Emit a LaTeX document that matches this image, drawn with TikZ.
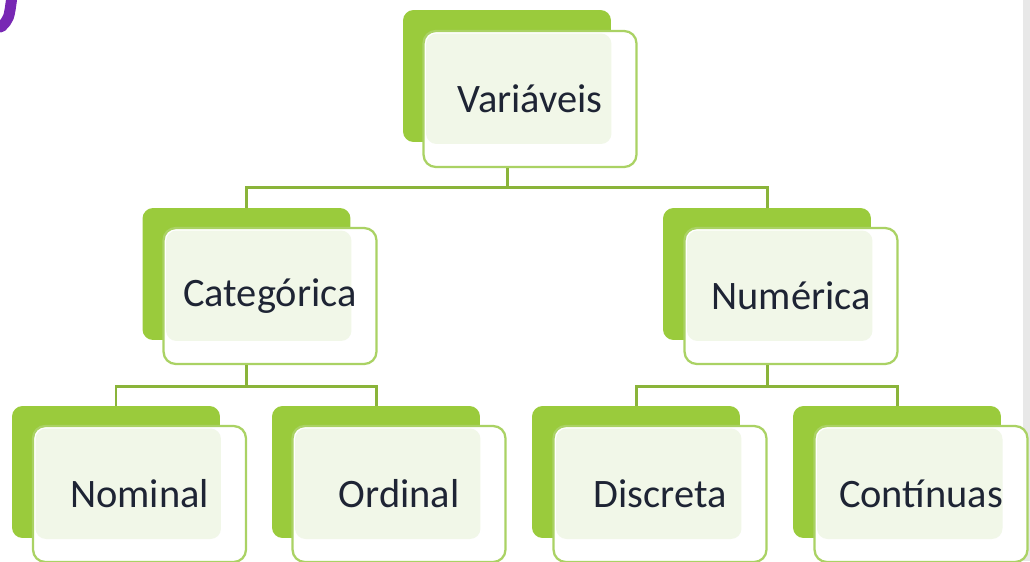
\documentclass[tikz,border=0pt]{standalone}
\usepackage{fontspec}
\setmainfont{Carlito}
\usepackage{tikz}
\usetikzlibrary{positioning}
\usepackage{xcolor}

\definecolor{leafgreen}{RGB}{154,203,60}
\definecolor{rimgreen}{RGB}{170,210,100}
\definecolor{linkgreen}{RGB}{138,180,58}
\definecolor{palegreen}{RGB}{241,247,232}
\definecolor{inkdark}{RGB}{30,36,52}
\definecolor{stray}{RGB}{120,40,180}

\tikzset{
  back/.style={rectangle, rounded corners=6pt, fill=leafgreen, minimum width=4.16cm, minimum height=2.64cm},
  front/.style={rectangle, rounded corners=7pt, fill=white, draw=rimgreen, line width=1.3pt,
    minimum width=4.26cm, minimum height=2.72cm, text=inkdark,
    font=\fontsize{23}{27}\selectfont,
    path picture={\fill[palegreen, rounded corners=6pt]
      ([shift={(0.05cm,-0.05cm)}]path picture bounding box.north west) rectangle
      ([shift={(-0.5cm,0.46cm)}]path picture bounding box.south east);}},
  link/.style={draw=linkgreen, line width=1.7pt}
}

\begin{document}
\begin{tikzpicture}[x=0.02cm, y=-0.02cm]
\useasboundingbox (0,0) rectangle (1030,561);
\fill[gray!18] (1023,0) rectangle (1030,561);
\draw[stray, line width=0.22cm, line cap=round] (1,27) .. controls (9,19) .. (12,-4);

% top level
\node[back] (varB) at (507,76) {};
\node[front] (var) at (530,99) {Variáveis};

% second level
\node[back] (catB) at (246.5,274) {};
\node[front] (cat) at (270,296) {Categórica};
\node[back] (numB) at (767,274) {};
\node[front] (num) at (791,296) {Numérica};

% third level
\node[back] (nomB) at (116,472) {};
\node[front] (nom) at (139.5,494) {Nominal};
\node[back] (ordB) at (376,472) {};
\node[front] (ord) at (399,494) {Ordinal};
\node[back] (disB) at (636,472) {};
\node[front] (dis) at (660,494) {Discreta};
\node[back] (conB) at (897,472) {};
\node[front] (con) at (921,494) {Contínuas};

% connectors
\draw[link] (varB |- var.south) -- ++(0,19) coordinate (varJ) -| (catB.north);
\draw[link] (varJ) -| (numB.north);
\draw[link] (catB |- cat.south) -- ++(0,21) coordinate (catJ) -| (nomB.north);
\draw[link] (catJ) -| (ordB.north);
\draw[link] (numB |- num.south) -- ++(0,21) coordinate (numJ) -| (disB.north);
\draw[link] (numJ) -| (conB.north);
\end{tikzpicture}
\end{document}
